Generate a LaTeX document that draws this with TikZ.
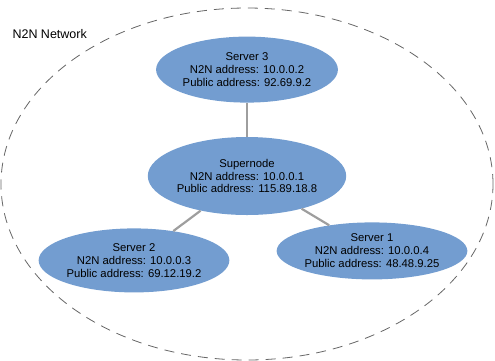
\documentclass[tikz,border=0pt]{standalone}
\usepackage{fontspec}
\setmainfont{Liberation Sans}
\usepackage{tikz}
\usetikzlibrary{shapes,positioning}
\definecolor{nodeblue}{RGB}{115,157,208}
\tikzstyle{server} = [ellipse, fill=nodeblue, text centered, align=center, inner sep=0pt, minimum width=174pt, minimum height=64pt, font=\fontsize{11.3}{12.8}\selectfont]
\tikzstyle{link} = [draw, line width=2.2pt, color=black!38]
\tikzstyle{network} = [draw, dashed, dash pattern=on 10pt off 7pt, color=black!60, line width=0.8pt]

\begin{document}
\begin{tikzpicture}
    \useasboundingbox (0pt,0pt) rectangle (495pt,-360pt);
    \path [network] (247pt,-184pt) ellipse [x radius=246pt, y radius=176pt];
    \node [anchor=base west, font=\fontsize{12.5}{14}\selectfont] (netlabel) at (9pt,-38pt) {N2N Network};
    \node [server, minimum width=190pt, minimum height=78pt] (supernode) at (247pt,-176pt) {Supernode\\N2N address: 10.0.0.1\\Public address: 115.89.18.8};
    \node [server, minimum width=176pt, minimum height=66pt, above=34pt of supernode] (server3) {Server 3\\N2N address: 10.0.0.2\\Public address: 92.69.9.2};
    \node [server, minimum width=170pt, below=13pt of supernode, xshift=-113pt] (server2) {Server 2\\N2N address: 10.0.0.3\\Public address: 69.12.19.2};
    \node [server, minimum width=180pt, minimum height=57pt, below=7pt of supernode, xshift=125pt] (server1) {Server 1\\N2N address: 10.0.0.4\\Public address: 48.48.9.25};
    \path [link] (server3) -- (supernode);
    \path [link] (supernode) -- (server2);
    \path [link] (supernode) -- (server1);
\end{tikzpicture}
\end{document}
